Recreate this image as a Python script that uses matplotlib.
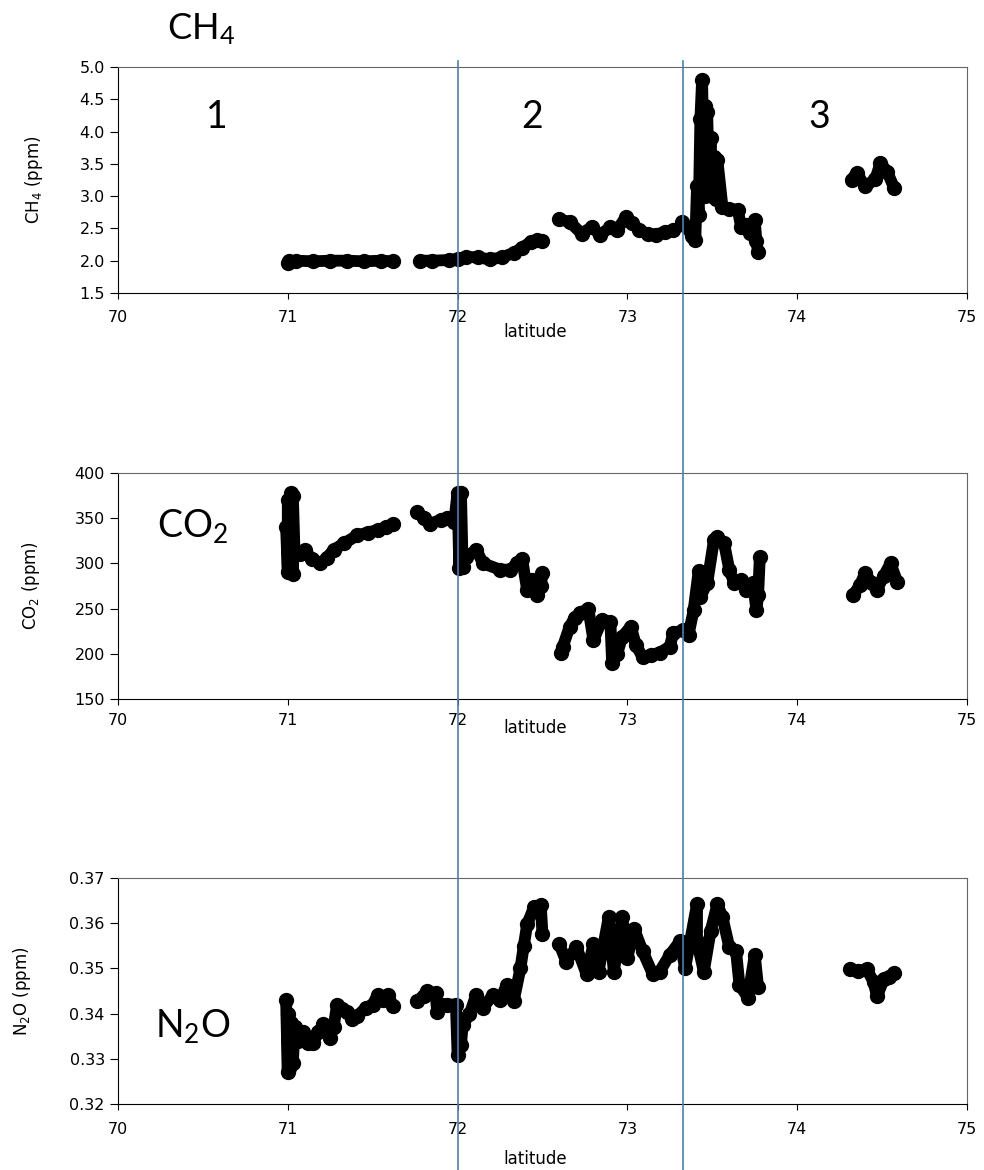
import numpy as np
import matplotlib
matplotlib.use("Agg")
import matplotlib.pyplot as plt
from matplotlib.lines import Line2D
from matplotlib.transforms import blended_transform_factory

plt.rcParams['font.family'] = ['DejaVu Sans']
plt.rcParams['mathtext.default'] = 'regular'

gap = np.nan  # break between transects

# CH4 (ppm) vs latitude
ch4_lat = [71.00, 71.01, 71.05, 71.15, 71.25, 71.35, 71.45, 71.55, 71.62, gap,
           71.78, 71.85, 71.95, 72.00, 72.05, 72.12, 72.19, 72.26, 72.33, 72.38, 72.43, 72.47, 72.50, gap,
           72.60, 72.66, 72.73, 72.79, 72.84, 72.90, 72.94, 72.99, 73.03, 73.07, 73.12, 73.17, 73.22, 73.27, gap,
           73.32, 73.35, 73.38, 73.40, 73.41, 73.42, 73.43, 73.44, 73.45, 73.46, 73.46, 73.47, 73.48, 73.49,
           73.50, 73.51, 73.52, 73.53, 73.56, 73.60, 73.65, 73.67, 73.70, 73.72, 73.75, 73.76, 73.77, gap,
           74.32, 74.35, 74.40, 74.46, 74.49, 74.53, 74.57]
ch4_val = [1.96, 1.99, 2.00, 1.99, 2.00, 2.00, 1.99, 2.00, 1.99, gap,
           2.00, 2.00, 2.01, 2.03, 2.06, 2.05, 2.02, 2.05, 2.12, 2.20, 2.29, 2.32, 2.30, gap,
           2.64, 2.60, 2.42, 2.52, 2.40, 2.52, 2.48, 2.67, 2.58, 2.47, 2.42, 2.40, 2.45, 2.47, gap,
           2.60, 2.52, 2.38, 2.32, 3.15, 2.70, 4.20, 4.80, 3.30, 4.40, 3.00, 4.30, 3.20, 3.90,
           3.00, 3.60, 2.95, 3.56, 2.83, 2.80, 2.79, 2.52, 2.55, 2.43, 2.63, 2.30, 2.13, gap,
           3.25, 3.36, 3.15, 3.26, 3.51, 3.38, 3.13]

# CO2 (ppm)
co2_lat = [70.99, 71.00, 71.00, 71.01, 71.02, 71.03, 71.03, 71.04, 71.07, 71.10, 71.14, 71.19, 71.23,
           71.27, 71.33, 71.41, 71.47, 71.53, 71.58, 71.62, gap,
           71.76, 71.80, 71.84, 71.90, 71.94, 71.98, 72.00, 72.01, 72.02, 72.03, 72.05, 72.11, 72.15,
           72.25, 72.31, 72.35, 72.38, 72.41, 72.44, 72.47, 72.49, 72.50, gap,
           72.61, 72.62, 72.66, 72.69, 72.72, 72.77, 72.80, 72.85, 72.90, 72.91, 72.94, 72.97, 73.02,
           73.05, 73.09, 73.14, 73.19, 73.25, 73.27, 73.33, 73.36, 73.39, 73.42, 73.43, 73.47, 73.51,
           73.53, 73.57, 73.60, 73.63, 73.67, 73.70, 73.74, 73.76, 73.77, 73.78, gap,
           74.33, 74.37, 74.40, 74.44, 74.47, 74.51, 74.55, 74.59]
co2_val = [340, 290, 370, 300, 378, 288, 375, 310, 310, 315, 305, 300, 306,
           315, 322, 331, 334, 337, 340, 344, gap,
           357, 350, 344, 348, 350, 346, 378, 295, 378, 296, 307, 315, 300,
           293, 293, 300, 305, 270, 282, 265, 275, 289, gap,
           201, 208, 230, 240, 245, 250, 215, 237, 235, 190, 200, 219, 230,
           210, 196, 199, 201, 208, 223, 226, 221, 248, 292, 263, 278, 326,
           329, 322, 293, 278, 282, 271, 278, 248, 265, 307, gap,
           265, 276, 289, 278, 271, 286, 300, 279]

# N2O (ppm)
n2o_lat = [70.99, 71.00, 71.00, 71.01, 71.02, 71.03, 71.04, 71.06, 71.09, 71.12, 71.15, 71.18, 71.21,
           71.25, 71.27, 71.29, 71.32, 71.35, 71.38, 71.41, 71.46, 71.50, 71.53, 71.56, 71.59, 71.62, gap,
           71.76, 71.80, 71.82, 71.87, 71.88, 71.91, 71.94, 71.99, 72.00, 72.02, 72.03, 72.07, 72.11,
           72.15, 72.21, 72.25, 72.29, 72.33, 72.37, 72.39, 72.41, 72.45, 72.49, 72.50, gap,
           72.60, 72.64, 72.70, 72.76, 72.80, 72.83, 72.89, 72.92, 72.97, 73.00, 73.04, 73.09, 73.15,
           73.19, 73.25, 73.31, 73.34, 73.41, 73.41, 73.45, 73.49, 73.53, 73.56, 73.60, 73.64, 73.66,
           73.71, 73.75, 73.77, gap,
           74.31, 74.36, 74.41, 74.45, 74.47, 74.51, 74.54, 74.57]
n2o_val = [0.3430, 0.3270, 0.3400, 0.3280, 0.3380, 0.3290, 0.3370, 0.3340, 0.3360, 0.3335, 0.3335, 0.3360, 0.3376,
           0.3347, 0.3370, 0.3420, 0.3410, 0.3404, 0.3387, 0.3395, 0.3413, 0.3420, 0.3442, 0.3430, 0.3442, 0.3416, gap,
           0.3427, 0.3440, 0.3449, 0.3445, 0.3404, 0.3420, 0.3420, 0.3420, 0.3309, 0.3330, 0.3375, 0.3398, 0.3442,
           0.3413, 0.3442, 0.3430, 0.3464, 0.3427, 0.3500, 0.3550, 0.3598, 0.3635, 0.3640, 0.3575, gap,
           0.3553, 0.3515, 0.3547, 0.3487, 0.3553, 0.3493, 0.3613, 0.3493, 0.3613, 0.3524, 0.3587, 0.3538, 0.3487,
           0.3493, 0.3530, 0.3560, 0.3500, 0.3642, 0.3560, 0.3493, 0.3582, 0.3642, 0.3613, 0.3547, 0.3538, 0.3464,
           0.3435, 0.3530, 0.3458, gap,
           0.3498, 0.3495, 0.3498, 0.3470, 0.3438, 0.3476, 0.3480, 0.3490]

# zone boundaries (latitude)
borders = [72.0, 73.33]

fig = plt.figure(figsize=(9.84, 11.7), dpi=100)

panels = [
    # bottom, lat, val, ylim, yticks, fmt, ylabel, label x, xlabel y, tick pad
    (0.7496, ch4_lat, ch4_val, (1.5, 5.0), np.arange(1.5, 5.01, 0.5), '%.1f', 'CH$_4$ (ppm)', -0.086, -0.135, 8),
    (0.4026, co2_lat, co2_val, (150, 400), np.arange(150, 401, 50), '%d', 'CO$_2$ (ppm)', -0.09, -0.09, 6),
    (0.0564, n2o_lat, n2o_val, (0.32, 0.37), np.arange(0.32, 0.3701, 0.01), '%.2f', 'N$_2$O (ppm)', -0.10, -0.205, 9),
]

axes = []
for bottom, lat, val, ylim, yticks, fmt, ylabel, lx, ly, pad in panels:
    ax = fig.add_axes([0.1199, bottom, 0.8628, 0.1932])
    ax.plot(lat, val, '-o', color='black', lw=8.5, ms=10, solid_capstyle='round', solid_joinstyle='round')
    ax.set_xlim(70, 75)
    ax.set_ylim(*ylim)
    ax.set_xticks([70, 71, 72, 73, 74, 75])
    ax.set_yticks(yticks)
    ax.yaxis.set_major_formatter(matplotlib.ticker.FormatStrFormatter(fmt))
    ax.tick_params(axis='x', direction='out', length=4, pad=pad, labelsize=11.5)
    ax.tick_params(axis='y', direction='out', length=6, labelsize=11.5)
    ax.set_ylabel(ylabel, fontsize=12)
    ax.yaxis.set_label_coords(lx, 0.5)
    ax.set_xlabel('latitude', fontsize=12)
    ax.xaxis.set_label_coords(0.492, ly)
    for s in ['top', 'right']:
        ax.spines[s].set_color('#666666')
    axes.append(ax)

# big labels
fig.text(0.17, 0.966, 'CH$_4$', family='Lato', fontsize=26, va='baseline')
for x, t in zip([70.58, 72.44, 74.13], ['1', '2', '3']):
    axes[0].text(x, 4.23, t, family='Lato', fontsize=27, ha='center', va='center')
axes[1].text(70.23, 329, 'CO$_2$', family='Lato', fontsize=27, va='baseline')
axes[2].text(70.22, 0.3349, 'N$_2$O', family='Lato', fontsize=27, va='baseline')

# zone borders through all panels
tr = blended_transform_factory(axes[0].transData, fig.transFigure)
for b in borders:
    fig.add_artist(Line2D([b, b], [0, 0.948], transform=tr, color='#4a7ebb', lw=1.2))

fig.savefig('out.png', dpi=100)
